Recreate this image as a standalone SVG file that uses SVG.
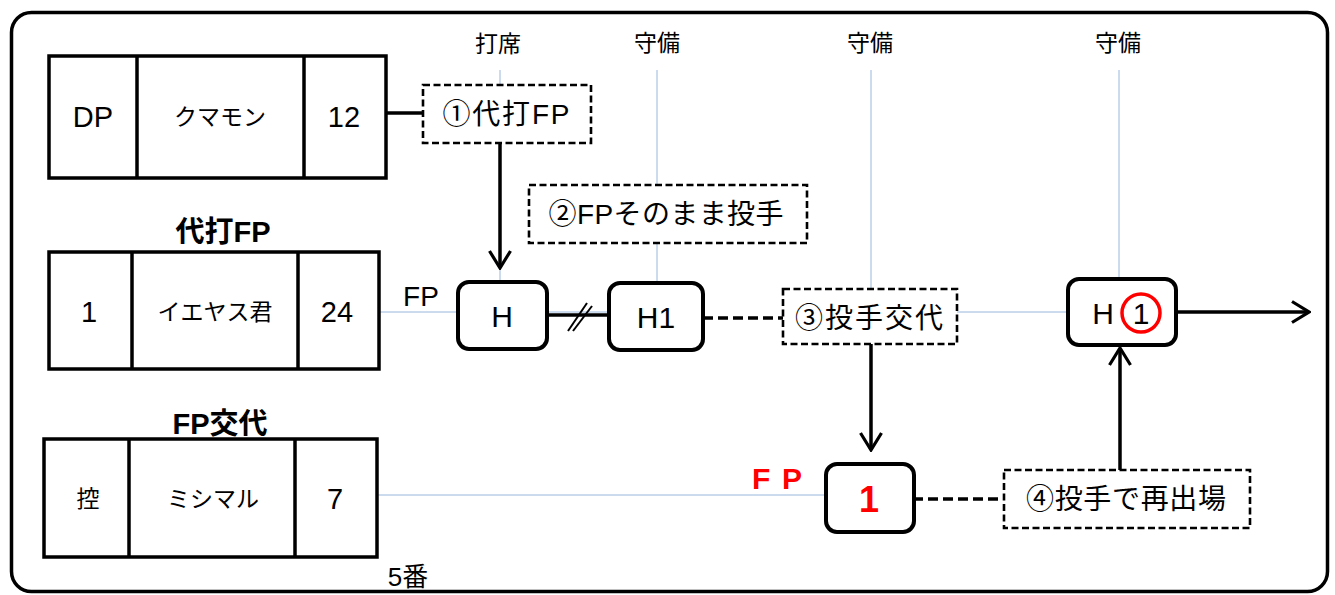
<svg xmlns="http://www.w3.org/2000/svg" width="1335" height="595" viewBox="0 0 1335 595">
<defs>
<style>
text{font-family:"Liberation Sans","Noto Sans CJK JP",sans-serif;fill:#000;text-anchor:middle;dominant-baseline:central}
.cell{fill:#fff;stroke:#000;stroke-width:3.5}
.div{stroke:#000;stroke-width:3.5}
.lat{font-size:29px}
.jp{font-size:23px}
.hdr{font-size:23px}
.ttl{font-size:29px;font-weight:bold}
.dbox{fill:#fff;stroke:#000;stroke-width:2.6;stroke-dasharray:7 3.5}
.dtxt{font-size:28px}
.rbox{fill:#fff;stroke:#000;stroke-width:4}
.guide{stroke:#9ab6de;stroke-width:1;fill:none}
.conn{stroke:#000;stroke-width:3.5;fill:none}
.dconn{stroke:#000;stroke-width:3.5;fill:none;stroke-dasharray:10 5}
.red{fill:#ff0000;font-weight:bold}
</style>
<marker id="arr" viewBox="0 0 20 24" refX="18" refY="12" markerWidth="20" markerHeight="24" markerUnits="userSpaceOnUse" orient="auto">
<path d="M1,1.5 L18,12 L1,22.5" fill="none" stroke="#000" stroke-width="3.2"/>
</marker>
</defs>
<rect x="11.5" y="12.5" width="1316" height="579" rx="20" fill="#fff" stroke="#000" stroke-width="3.5"/>

<g id="guides">
<line class="guide" x1="500" y1="70" x2="500" y2="282"/>
<line class="guide" x1="657" y1="70" x2="657" y2="283"/>
<line class="guide" x1="871" y1="70" x2="871" y2="289"/>
<line class="guide" x1="1119" y1="70" x2="1119" y2="278"/>
<line class="guide" x1="379" y1="312" x2="458" y2="312"/>
<line class="guide" x1="547" y1="312" x2="608" y2="312"/>
<line class="guide" x1="957" y1="312" x2="1067" y2="312"/>
<line class="guide" x1="377" y1="495" x2="825" y2="495"/>
</g>

<g id="labels">
<text class="hdr" x="498" y="44">打席</text>
<text class="hdr" x="657" y="43">守備</text>
<text class="hdr" x="870" y="43">守備</text>
<text class="hdr" x="1118" y="43">守備</text>
<text class="ttl" x="223" y="232">代打FP</text>
<text class="ttl" x="220" y="424">FP交代</text>
<text x="421" y="296" style="font-size:28px">FP</text>
<text x="408" y="577" style="font-size:26px">5番</text>
<text class="red" x="777" y="478" style="font-size:30px" textLength="50" lengthAdjust="spacing">F P</text>
</g>

<g id="connectors">
<line class="conn" x1="386" y1="113" x2="423" y2="113"/>
<line class="conn" x1="500" y1="143" x2="500" y2="268" marker-end="url(#arr)"/>
<line class="conn" x1="547" y1="315" x2="608" y2="315"/>
<line stroke="#000" stroke-width="2" x1="568" y1="331" x2="587" y2="303"/>
<line stroke="#000" stroke-width="2" x1="573" y1="331" x2="592" y2="306"/>
<line class="dconn" x1="703" y1="318" x2="783" y2="318"/>
<line class="conn" x1="871" y1="344" x2="871" y2="450" marker-end="url(#arr)"/>
<line class="conn" x1="1176" y1="312" x2="1309" y2="312" marker-end="url(#arr)"/>
<line class="dconn" x1="913" y1="499" x2="1003" y2="499"/>
<line class="conn" x1="1120" y1="470" x2="1120" y2="348" marker-end="url(#arr)"/>
</g>

<g id="row-dp">
<rect class="cell" x="49" y="56" width="337" height="122"/>
<line class="div" x1="137" y1="56" x2="137" y2="178"/>
<line class="div" x1="304" y1="56" x2="304" y2="178"/>
<text class="lat" x="93" y="117">DP</text>
<text class="jp" x="220" y="117">クマモン</text>
<text class="lat" x="344" y="117">12</text>
</g>

<g id="row-fp">
<rect class="cell" x="49" y="252" width="330" height="117"/>
<line class="div" x1="132" y1="252" x2="132" y2="369"/>
<line class="div" x1="298" y1="252" x2="298" y2="369"/>
<text class="lat" x="89" y="312">1</text>
<text class="jp" x="215" y="312">イエヤス君</text>
<text class="lat" x="337" y="312">24</text>
</g>

<g id="row-sub">
<rect class="cell" x="44" y="439" width="333" height="118"/>
<line class="div" x1="129" y1="439" x2="129" y2="557"/>
<line class="div" x1="295" y1="439" x2="295" y2="557"/>
<text class="jp" x="88" y="499">控</text>
<text class="jp" x="213" y="499">ミシマル</text>
<text class="lat" x="335" y="499">7</text>
</g>

<g id="step1">
<rect class="dbox" x="423" y="85" width="168" height="58"/>
<text class="dtxt" x="506" y="114" textLength="127" lengthAdjust="spacing">①代打FP</text>
</g>

<g id="step2">
<rect class="dbox" x="529" y="185" width="278" height="58"/>
<text class="dtxt" x="666" y="214" textLength="235" lengthAdjust="spacing">②FPそのまま投手</text>
</g>

<g id="step3">
<rect class="dbox" x="783" y="289" width="174" height="55"/>
<text class="dtxt" x="869" y="318" textLength="148" lengthAdjust="spacing">③投手交代</text>
</g>

<g id="step4">
<rect class="dbox" x="1004" y="470" width="246" height="58"/>
<text class="dtxt" x="1126" y="499" textLength="200" lengthAdjust="spacing">④投手で再出場</text>
</g>

<g id="node-h">
<rect class="rbox" x="458" y="282" width="89" height="67" rx="11"/>
<text x="502" y="316" style="font-size:30px">H</text>
</g>

<g id="node-h1">
<rect class="rbox" x="609" y="283" width="94" height="67" rx="11"/>
<text x="656" y="317" style="font-size:30px">H1</text>
</g>

<g id="node-h-circle1">
<rect class="rbox" x="1068" y="279" width="108" height="66" rx="11"/>
<text x="1103" y="313" style="font-size:30px">H</text>
<circle cx="1141" cy="313" r="19" fill="none" stroke="#ff0000" stroke-width="3.5"/>
<text x="1141" y="313" style="font-size:30px">1</text>
</g>

<g id="node-fp1">
<rect class="rbox" x="826" y="464" width="88" height="68" rx="11"/>
<text class="red" x="869" y="499" style="font-size:36px">1</text>
</g>
</svg>
